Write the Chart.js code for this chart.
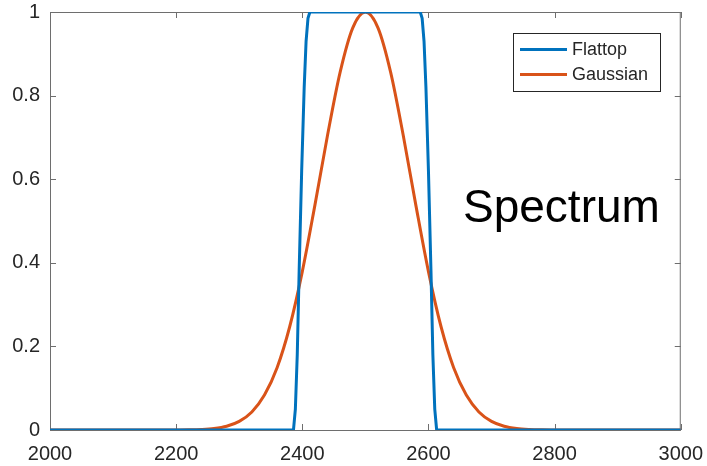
<!DOCTYPE html>
<html>
<head>
<meta charset="utf-8">
<script src="https://cdn.jsdelivr.net/npm/chart.js@4"></script>
<style>
  body { margin: 0; background: #fff; }
  #wrap { width: 707px; height: 466px; }
</style>
</head>
<body>
<div id="wrap"><canvas id="espectro"></canvas></div>
<script>
const flattopX = [2000, 2100, 2200, 2300, 2386, 2389, 2392, 2395, 2399, 2403, 2406, 2409, 2412,
                  2500, 2587, 2590, 2593, 2596, 2600, 2604, 2607, 2610, 2613, 2700, 2800, 2900, 3000];
const flattopY = [0, 0, 0, 0, 0, 0.05, 0.18, 0.38, 0.62, 0.82, 0.93, 0.985, 1,
                  1, 1, 0.985, 0.93, 0.82, 0.62, 0.38, 0.18, 0.05, 0, 0, 0, 0, 0];

const gaussX = [2000, 2100, 2180, 2200, 2220, 2240, 2260, 2280, 2300, 2320, 2340, 2360, 2380, 2400,
                2420, 2440, 2460, 2480, 2500, 2520, 2540, 2560, 2580, 2600, 2620, 2640, 2660,
                2680, 2700, 2720, 2740, 2760, 2780, 2800, 2820, 2900, 3000];
const gaussY = [0, 0, 0, 0.0002, 0.0005, 0.0014, 0.0037, 0.0091, 0.0207, 0.0432, 0.0835, 0.149, 0.247, 0.379,
                0.538, 0.705, 0.856, 0.962, 1, 0.962, 0.856, 0.705, 0.538, 0.379, 0.247, 0.149, 0.0835,
                0.0432, 0.0207, 0.0091, 0.0037, 0.0014, 0.0005, 0.0002, 0, 0, 0];

const ticksX = [2000, 2200, 2400, 2600, 2800, 3000];
const ticksY = [0, 0.2, 0.4, 0.6, 0.8, 1];

const nomes = ['Flattop', 'Gaussian'];
const cores = ['#0072BD', '#D95319'];

function pontos(xs, ys) {
  return xs.map((x, i) => ({ x: x, y: ys[i] }));
}

// caixa dos eixos com marcas para dentro (estilo matlab)
const caixaEixos = {
  id: 'caixaEixos',
  beforeDatasetsDraw(chart) {
    const { ctx, chartArea: a, scales } = chart;
    const tam = 6;
    ctx.save();
    ctx.strokeStyle = '#6e6e6e';
    ctx.lineWidth = 1;
    ctx.strokeRect(a.left + 0.5, a.top + 0.5, a.right - a.left - 1, a.bottom - a.top);
    ctx.beginPath();
    ticksX.forEach(v => {
      const px = Math.round(scales.x.getPixelForValue(v)) + 0.5;
      ctx.moveTo(px, a.bottom); ctx.lineTo(px, a.bottom - tam);
      ctx.moveTo(px, a.top); ctx.lineTo(px, a.top + tam);
    });
    ticksY.forEach(v => {
      const py = Math.round(scales.y.getPixelForValue(v)) + 0.5;
      ctx.moveTo(a.left, py); ctx.lineTo(a.left + tam, py);
      ctx.moveTo(a.right, py); ctx.lineTo(a.right - tam, py);
    });
    ctx.stroke();
    ctx.restore();
  },
  afterDraw(chart) {
    const ctx = chart.ctx;
    ctx.save();
    // legenda
    ctx.fillStyle = '#fff';
    ctx.fillRect(513, 33, 147, 58);
    ctx.strokeStyle = '#262626';
    ctx.lineWidth = 1;
    ctx.strokeRect(513.5, 33.5, 147, 58);
    ctx.font = '18px "Liberation Sans", Arial, sans-serif';
    ctx.textBaseline = 'middle';
    chart.data.datasets.forEach((ds, i) => {
      const y = 49.5 + i * 25;
      ctx.strokeStyle = ds.borderColor;
      ctx.lineWidth = 3;
      ctx.beginPath();
      ctx.moveTo(520, y); ctx.lineTo(567, y);
      ctx.stroke();
      ctx.fillStyle = '#262626';
      ctx.fillText(ds.label, 572, y + 1);
    });
    // texto grande
    ctx.fillStyle = '#000';
    ctx.font = '46px "Liberation Sans", Arial, sans-serif';
    ctx.textBaseline = 'alphabetic';
    ctx.fillText('Spectrum', 463, 222);
    ctx.restore();
  }
};

const fonteTicks = { family: '"Liberation Sans", Arial, sans-serif', size: 20 };

new Chart(document.getElementById('espectro'), {
  type: 'line',
  data: {
    datasets: [
      {
        label: nomes[0],
        data: pontos(flattopX, flattopY),
        borderColor: cores[0],
        borderWidth: 3,
        pointRadius: 0,
        tension: 0
      },
      {
        label: nomes[1],
        data: pontos(gaussX, gaussY),
        borderColor: cores[1],
        borderWidth: 3,
        pointRadius: 0,
        cubicInterpolationMode: 'monotone'
      }
    ]
  },
  options: {
    responsive: true,
    maintainAspectRatio: false,
    animation: false,
    layout: { padding: { top: 0, right: 26, left: 0, bottom: 0 } },
    plugins: {
      legend: { display: false },
      tooltip: { enabled: false }
    },
    scales: {
      x: {
        type: 'linear',
        min: 2000,
        max: 3000,
        afterBuildTicks: s => { s.ticks = ticksX.map(v => ({ value: v })); },
        afterFit: s => { s.height = 36; },
        grid: { display: false },
        border: { display: false },
        ticks: {
          font: fonteTicks,
          color: '#262626',
          padding: 4,
          maxRotation: 0,
          callback: v => String(v)
        }
      },
      y: {
        min: 0,
        max: 1,
        afterBuildTicks: s => { s.ticks = ticksY.map(v => ({ value: v })); },
        afterFit: s => { s.width = 50; s.paddingTop = 12; },
        grid: { display: false },
        border: { display: false },
        ticks: {
          font: fonteTicks,
          color: '#262626',
          padding: 2,
          callback: v => String(Math.round(v * 10) / 10)
        }
      }
    }
  },
  plugins: [caixaEixos]
});
</script>
</body>
</html>
